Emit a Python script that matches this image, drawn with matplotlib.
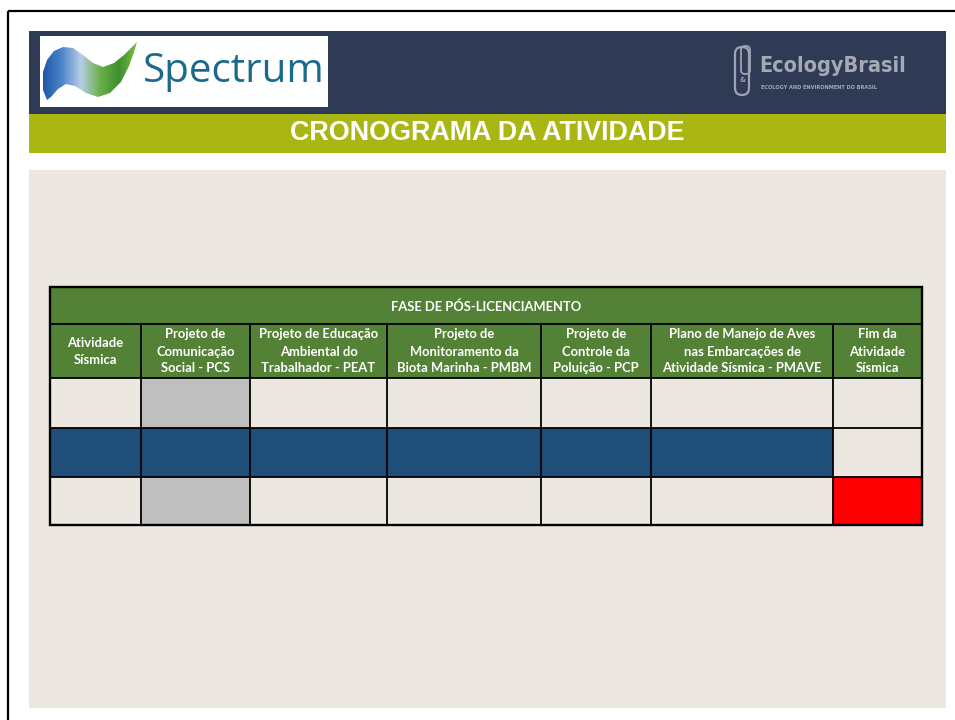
import matplotlib
matplotlib.use("Agg")
import matplotlib.pyplot as plt
import numpy as np
from matplotlib.patches import Rectangle, Polygon, FancyBboxPatch
from matplotlib.colors import LinearSegmentedColormap

# ---------------- data ----------------
slide_title = "CRONOGRAMA DA ATIVIDADE"
phase_title = "FASE DE PÓS-LICENCIAMENTO"
columns = [
    "Atividade\nSísmica",
    "Projeto de\nComunicação\nSocial - PCS",
    "Projeto de Educação\nAmbiental do\nTrabalhador - PEAT",
    "Projeto de\nMonitoramento da\nBiota Marinha - PMBM",
    "Projeto de\nControle da\nPoluição - PCP",
    "Plano de Manejo de Aves\nnas Embarcações de\nAtividade Sísmica - PMAVE",
    "Fim da\nAtividade\nSísmica",
]
# cell status per row: 0 = empty, 1 = grey, 2 = blue, 3 = red
row1 = [0, 1, 0, 0, 0, 0, 0]
row2 = [2, 2, 2, 2, 2, 2, 0]
row3 = [0, 1, 0, 0, 0, 0, 3]
status_colors = {0: None, 1: "#bfbfbf", 2: "#1f4e79", 3: "#ff0000"}

# ---------------- layout ----------------
W, H = 955, 720
fig = plt.figure(figsize=(W / 100, H / 100), dpi=100)
ax = fig.add_axes([0, 0, 1, 1])
ax.set_xlim(0, W)
ax.set_ylim(H, 0)
ax.axis("off")
fig.patch.set_facecolor("white")

# outer frame
ax.plot([7.5, 7.5], [H + 5, 10.5], color="black", lw=1.6, solid_capstyle="butt")
ax.plot([7.5, W + 5], [10.5, 10.5], color="black", lw=1.6, solid_capstyle="butt")

# header bands
ax.add_patch(Rectangle((29, 31), 917, 83, facecolor="#2f3a55", edgecolor="none"))
ax.add_patch(Rectangle((29, 114), 917, 39, facecolor="#aab613", edgecolor="none"))
ax.text(487, 133, slide_title, color="white", fontsize=19.4, fontweight="bold",
        family="Liberation Sans", ha="center", va="center")

# Spectrum logo
ax.add_patch(Rectangle((40, 36), 288, 71, facecolor="white", edgecolor="none"))
wave = [(43, 72), (47, 60), (54, 51), (63, 47), (73, 48), (83, 55), (93, 63),
        (103, 67), (114, 63), (124, 55), (131, 48), (137, 42),
        (134, 52), (129, 66), (121, 82), (110, 93), (98, 97), (86, 93),
        (75, 86), (66, 84), (58, 89), (51, 97), (47, 100), (43, 90)]
poly = Polygon(wave, closed=True, facecolor="none", edgecolor="none")
ax.add_patch(poly)
cmap = LinearSegmentedColormap.from_list(
    "spec", ["#1f56a8", "#4d86c9", "#b8cde6", "#6bb04a", "#3f8f2f", "#7cc242"])
grad = np.linspace(0, 1, 256).reshape(1, -1)
im = ax.imshow(grad, extent=(43, 137, 101, 41), cmap=cmap, aspect="auto", zorder=2)
im.set_clip_path(poly)
ax.text(143, 72, "Spectrum", color="#1a6a8c", fontsize=29, family="Open Sans",
        ha="left", va="center")

# Ecology Brasil logo
ax.add_patch(FancyBboxPatch((735, 47), 14, 48, boxstyle="round,pad=0,rounding_size=7",
                            facecolor="none", edgecolor="#9da3b2", lw=1.6))
ax.add_patch(FancyBboxPatch((741, 46), 9, 28, boxstyle="round,pad=0,rounding_size=4",
                            facecolor="none", edgecolor="#9da3b2", lw=1.3))
ax.text(743, 80, "&", color="#9da3b2", fontsize=5, ha="center", va="center", fontweight="bold")
ax.text(759, 66, "EcologyBrasil", color="#a4a9b6", fontsize=15.5, fontweight="bold",
        family="DejaVu Sans", fontstretch="condensed", ha="left", va="center")
ax.text(761, 87.5, "ECOLOGY AND ENVIRONMENT DO BRASIL", color="#a4a9b6", fontsize=3.6,
        fontweight="bold", ha="left", va="center")

# paper area (flat)
ax.add_patch(Rectangle((29, 170), 917, 538, facecolor="#ece7e0", edgecolor="none"))

# ---------------- table ----------------
col_x = [50, 141, 250, 387, 541, 651, 833, 922]
y_title, y_head, y_rows = 287, 324, [378, 428, 477, 525]
green = "#538135"
hfont = dict(family=["Lato", "DejaVu Sans"], fontweight="bold", color="white", fontsize=9.4)

ax.add_patch(Rectangle((col_x[0], y_title), col_x[-1] - col_x[0], y_rows[0] - y_title,
                       facecolor=green, edgecolor="none", zorder=3))
ax.text((col_x[0] + col_x[-1]) / 2, (y_title + y_head) / 2 + 1, phase_title,
        ha="center", va="center", zorder=5, **hfont)
for i, label in enumerate(columns):
    cx = (col_x[i] + col_x[i + 1]) / 2
    ax.text(cx, (y_head + y_rows[0]) / 2 + 0.5, label, ha="center", va="center",
            multialignment="center", linespacing=1.5, zorder=5, **hfont)

rows = [row1, row2, row3]
for r, row in enumerate(rows):
    for c, s in enumerate(row):
        col = status_colors[s]
        if col:
            ax.add_patch(Rectangle((col_x[c], y_rows[r]), col_x[c + 1] - col_x[c],
                                   y_rows[r + 1] - y_rows[r], facecolor=col,
                                   edgecolor="none", zorder=3))

lw = 1.3
for y in [y_head] + y_rows:
    ax.plot([col_x[0], col_x[-1]], [y, y], color="black", lw=lw, zorder=6)
for x in col_x[1:-1]:
    ax.plot([x, x], [y_head, y_rows[-1]], color="black", lw=lw, zorder=6)
ax.add_patch(Rectangle((col_x[0], y_title), col_x[-1] - col_x[0], y_rows[-1] - y_title,
                       facecolor="none", edgecolor="black", lw=1.7, zorder=7))

fig.savefig("out.png", dpi=100)
